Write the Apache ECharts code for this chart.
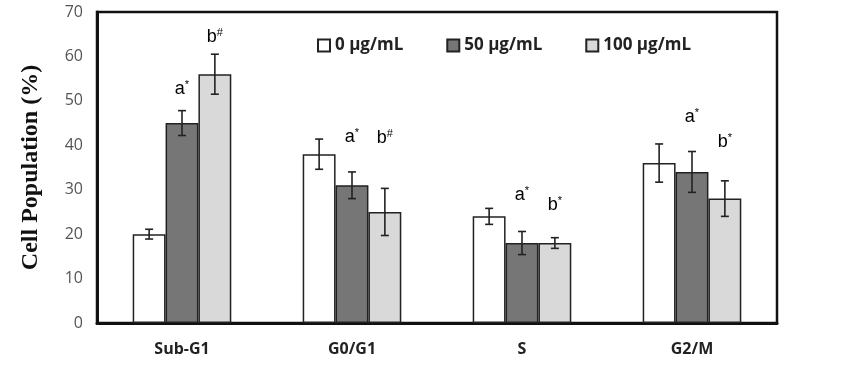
<!DOCTYPE html>
<html>
<head>
<meta charset="utf-8">
<script src="https://cdn.jsdelivr.net/npm/echarts@6/dist/echarts.min.js"></script>
<style>
  html, body { margin: 0; padding: 0; background: #fff; }
  #chart { width: 841px; height: 373px; }
</style>
</head>
<body>
<div id="chart"></div>
<script>
// cell cycle phases
const categories = ['Sub-G1', 'G0/G1', 'S', 'G2/M']
const seriesNames = ['0 μg/mL', '50 μg/mL', '100 μg/mL']

// mean values (%) and error (±)
const dose0 = [20, 38, 24, 36]
const dose0Err = [1.1, 3.4, 1.8, 4.3]
const dose50 = [45, 31, 18, 34]
const dose50Err = [2.8, 3.0, 2.6, 4.6]
const dose100 = [56, 25, 18, 28]
const dose100Err = [4.5, 5.3, 1.2, 4.0]

// significance marks and the height they sit at
const marks50 = ['a*', 'a*', 'a*', 'a*']
const marks50Y = [52.7, 41.9, 28.8, 46.4]
const marks100 = ['b#', 'b#', 'b*', 'b*']
const marks100Y = [64.4, 41.6, 26.6, 40.7]

const yTicks = [0, 10, 20, 30, 40, 50, 60, 70]

const colors = ['#ffffff', '#767676', '#d9d9d9']
const categoryGap = 0.42

const chart = echarts.init(document.getElementById('chart'))

function barCenter(api, x, idx) {
  const p = api.coord([x, 0])
  const band = api.size([1, 0])[0]
  const bw = band * (1 - categoryGap) / 3
  return p[0] + (idx - 1) * bw
}

function errorBars(idx) {
  return function(params, api) {
    const x = api.value(0)
    const lo = api.coord([x, api.value(1)])
    const hi = api.coord([x, api.value(2)])
    const cx = barCenter(api, x, idx)
    const cap = 4
    const style = { stroke: '#222', lineWidth: 1.6 }
    return {
      type: 'group',
      children: [
        { type: 'line', shape: { x1: cx, y1: hi[1], x2: cx, y2: lo[1] }, style },
        { type: 'line', shape: { x1: cx - cap, y1: hi[1], x2: cx + cap, y2: hi[1] }, style },
        { type: 'line', shape: { x1: cx - cap, y1: lo[1], x2: cx + cap, y2: lo[1] }, style }
      ]
    }
  }
}

function markText(idx, texts) {
  return function(params, api) {
    const x = api.value(0)
    const p = api.coord([x, api.value(1)])
    const t = texts[params.dataIndex]
    return {
      type: 'text',
      style: {
        x: barCenter(api, x, idx),
        y: p[1],
        text: '{m|' + t[0] + '}{s|' + t[1] + '}',
        align: 'center',
        verticalAlign: 'middle',
        rich: {
          m: { fontFamily: 'Liberation Sans', fontSize: 18, color: '#333' },
          s: { fontFamily: 'Liberation Sans', fontSize: 11, color: '#333', verticalAlign: 'top', padding: [0, 0, 8, 0] }
        }
      }
    }
  }
}

const values = [dose0, dose50, dose100]
const errs = [dose0Err, dose50Err, dose100Err]

const barSeries = seriesNames.map((name, i) => ({
  name: name,
  type: 'bar',
  data: values[i],
  barGap: '0%',
  barCategoryGap: (categoryGap * 100) + '%',
  itemStyle: { color: colors[i], borderColor: '#222', borderWidth: 1.5 },
  z: 2
}))

const errSeries = values.map((vals, i) => ({
  type: 'custom',
  renderItem: errorBars(i),
  data: vals.map((v, k) => [k, v - errs[i][k], v + errs[i][k]]),
  encode: { x: 0, y: [1, 2] },
  z: 3
}))

chart.setOption({
  animation: false,
  grid: {
    left: 97,
    right: 64,
    top: 12,
    bottom: 50,
    show: true,
    borderColor: '#111',
    borderWidth: 2.5
  },
  legend: {
    data: seriesNames,
    top: 32,
    left: 312,
    icon: 'rect',
    itemWidth: 12,
    itemHeight: 12,
    itemGap: 43,
    textStyle: { fontFamily: 'Open Sans', fontWeight: 'bold', fontSize: 17, color: '#222' }
  },
  xAxis: {
    type: 'category',
    data: categories,
    axisLine: { lineStyle: { color: '#111', width: 3 } },
    axisTick: { show: false },
    axisLabel: { margin: 18, fontFamily: 'Open Sans', fontWeight: 'bold', fontSize: 16, color: '#222' }
  },
  yAxis: {
    type: 'value',
    min: yTicks[0],
    max: yTicks[yTicks.length - 1],
    interval: 10,
    name: 'Cell Population (%)',
    nameLocation: 'middle',
    nameGap: 54,
    nameTextStyle: { fontFamily: 'Liberation Serif', fontWeight: 'bold', fontSize: 24, color: '#111' },
    axisLine: { show: true, lineStyle: { color: '#111', width: 3 } },
    axisTick: { show: false },
    splitLine: { show: false },
    axisLabel: { margin: 14, fontFamily: 'Open Sans', fontSize: 16, color: '#555' }
  },
  series: barSeries.concat(errSeries).concat([
    {
      type: 'custom',
      renderItem: markText(1, marks50),
      data: marks50Y.map((y, k) => [k, y]),
      encode: { x: 0, y: 1 },
      z: 4
    },
    {
      type: 'custom',
      renderItem: markText(2, marks100),
      data: marks100Y.map((y, k) => [k, y]),
      encode: { x: 0, y: 1 },
      z: 4
    }
  ])
})
</script>
</body>
</html>
